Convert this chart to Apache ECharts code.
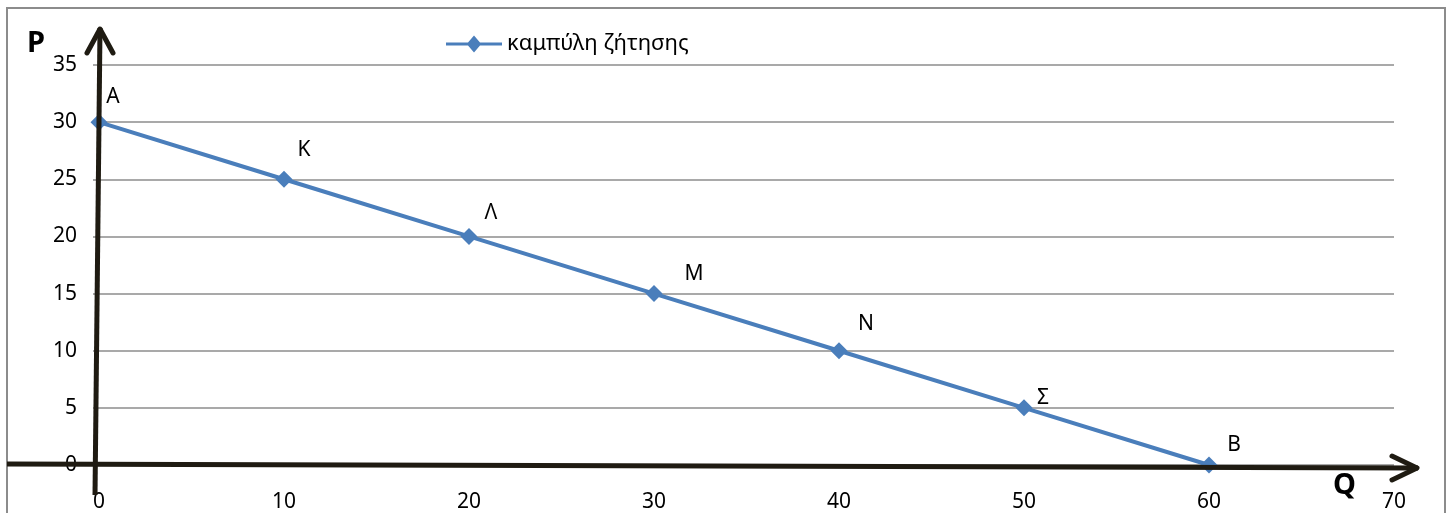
<!DOCTYPE html>
<html>
<head>
<meta charset="utf-8">
<script src="https://cdn.jsdelivr.net/npm/echarts@6/dist/echarts.min.js"></script>
<style>
html,body{margin:0;padding:0;background:#fff;}
#main{width:1450px;height:513px;}
</style>
</head>
<body>
<div id="main"></div>
<script>
const seriesName = 'καμπύλη ζήτησης';
const quantities = [0, 10, 20, 30, 40, 50, 60];
const prices = [30, 25, 20, 15, 10, 5, 0];
const pointNames = ['Α', 'Κ', 'Λ', 'Μ', 'Ν', 'Σ', 'Β'];
const xTicks = { min: 0, max: 70, interval: 10 };
const yTicks = { min: 0, max: 35, interval: 5 };

// label offsets (style only)
const labelOffsets = [[14,-25],[20,-29],[22,-23],[40,-20],[27,-27],[19,-10],[25,-20]];

const FONT = 'Noto Sans';
const chart = echarts.init(document.getElementById('main'), null, {renderer:'canvas'});

const data = quantities.map((q, i) => ({
  value: [q, prices[i]],
  name: pointNames[i],
  label: { offset: labelOffsets[i] }
}));

chart.setOption({
  animation: false,
  backgroundColor: '#fff',
  textStyle: { fontFamily: FONT },
  grid: { left: 99, right: 56, top: 65, bottom: 48, containLabel: false },
  legend: {
    top: 33, left: 446, padding: 0,
    itemWidth: 56, itemHeight: 17,
    itemGap: 4,
    textStyle: { fontFamily: FONT, fontSize: 22, color: '#000', padding: [0,0,0,0] },
    data: [{ name: seriesName,
      icon: 'path://M0,7 L22,7 L28,0 L34,7 L56,7 L56,10 L34,10 L28,17 L22,10 L0,10 Z' }]
  },
  xAxis: {
    type: 'value', min: xTicks.min, max: xTicks.max, interval: xTicks.interval,
    axisLine: { show: false },
    axisTick: { show: false },
    splitLine: { show: false },
    axisLabel: { fontFamily: FONT, fontSize: 21, color: '#000', margin: 27 }
  },
  yAxis: {
    type: 'value', min: yTicks.min, max: yTicks.max, interval: yTicks.interval,
    axisLine: { show: false },
    axisTick: { show: true, length: 6, lineStyle: { color: '#8c8c8c', width: 1.5 } },
    splitLine: { show: true, lineStyle: { color: '#8c8c8c', width: 1.5 } },
    axisLabel: { fontFamily: FONT, fontSize: 21, color: '#000', margin: 22 }
  },
  series: [{
    name: seriesName,
    type: 'line',
    data: data,
    symbol: 'diamond',
    symbolSize: 17,
    z: 3,
    lineStyle: { color: '#4a7ebb', width: 4 },
    itemStyle: { color: '#4a7ebb' },
    label: {
      show: true, position: 'inside',
      formatter: p => p.name,
      fontFamily: FONT, fontSize: 21, color: '#000'
    }
  }]
});

// hand-drawn axes arrows, positioned from the chart's own scale
const o = chart.convertToPixel({gridIndex:0}, [0, 0]);
const xEnd = chart.convertToPixel({gridIndex:0}, [70, 0]);
const yTop = chart.convertToPixel({gridIndex:0}, [0, 35]);
const ink = '#1f1b12';
const lw = 5;
const vx0 = o[0] - 4, vy0 = o[1] + 30;
const vx1 = o[0] + 1, vy1 = yTop[1] - 37;
const hx0 = 7, hy0 = o[1] - 1;
const hx1 = xEnd[0] + 24, hy1 = o[1] + 3;
chart.setOption({
  graphic: [
    { type: 'rect', shape: { x: 7, y: 8, width: 1438, height: 520 },
      style: { fill: 'none', stroke: '#8c8c8c', lineWidth: 2 }, z: 0, silent: true },
    { type: 'line', shape: { x1: vx0, y1: vy0, x2: vx1, y2: vy1 },
      style: { stroke: ink, lineWidth: lw }, z: 10 },
    { type: 'polyline', shape: { points: [[vx1-13, vy1+25], [vx1, vy1+1], [vx1+13, vy1+25]] },
      style: { stroke: ink, lineWidth: lw, fill: 'none', lineCap: 'round', lineJoin: 'round' }, z: 10 },
    { type: 'line', shape: { x1: hx0, y1: hy0, x2: hx1, y2: hy1 },
      style: { stroke: ink, lineWidth: lw }, z: 10 },
    { type: 'polyline', shape: { points: [[hx1-26, hy1-12], [hx1-1, hy1], [hx1-26, hy1+12]] },
      style: { stroke: ink, lineWidth: lw, fill: 'none', lineCap: 'round', lineJoin: 'round' }, z: 10 },
    { type: 'text', left: 27, top: 29,
      style: { text: 'P', fontFamily: FONT, fontSize: 29, fontWeight: 'bold', fill: '#000' }, z: 10 },
    { type: 'text', left: 1333, top: 471,
      style: { text: 'Q', fontFamily: FONT, fontSize: 29, fontWeight: 'bold', fill: '#000' }, z: 10 }
  ]
});
</script>
</body>
</html>
